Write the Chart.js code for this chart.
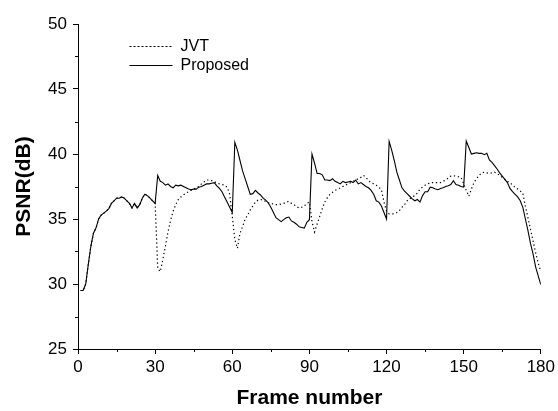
<!DOCTYPE html>
<html>
<head>
<meta charset="utf-8">
<script src="https://cdn.jsdelivr.net/npm/chart.js@4.4.0/dist/chart.umd.min.js"></script>
<style>
  html, body { margin: 0; padding: 0; background: #fff; }
</style>
</head>
<body>
<canvas id="psnr-chart" width="558" height="411"></canvas>
<script>
// Frame numbers ====================================
const frames = [
  1, 2, 3, 4, 5, 6, 7, 8, 9, 10, 11, 12, 13, 14, 15, 16, 17, 18, 19, 20,
  21, 22, 23, 24, 25, 26, 27, 28, 29, 30, 31, 32, 33, 34, 35, 36, 37, 38, 39, 40,
  41, 42, 43, 44, 45, 46, 47, 48, 49, 50, 51, 52, 53, 54, 55, 56, 57, 58, 59, 60,
  61, 62, 63, 64, 65, 66, 67, 68, 69, 70, 71, 72, 73, 74, 75, 76, 77, 78, 79, 80,
  81, 82, 83, 84, 85, 86, 87, 88, 89, 90, 91, 92, 93, 94, 95, 96, 97, 98, 99, 100,
  101, 102, 103, 104, 105, 106, 107, 108, 109, 110, 111, 112, 113, 114, 115, 116, 117, 118, 119, 120,
  121, 122, 123, 124, 125, 126, 127, 128, 129, 130, 131, 132, 133, 134, 135, 136, 137, 138, 139, 140,
  141, 142, 143, 144, 145, 146, 147, 148, 149, 150, 151, 152, 153, 154, 155, 156, 157, 158, 159, 160,
  161, 162, 163, 164, 165, 166, 167, 168, 169, 170, 171, 172, 173, 174, 175, 176, 177, 178, 179, 180
];

// PSNR values (dB) ==================================
const jvtPsnr = [
  29.5, 29.5, 30.0, 31.5, 32.9, 33.9, 34.3, 35.0, 35.3, 35.45, 35.6, 35.8, 36.2, 36.4, 36.6, 36.6, 36.7, 36.6, 36.4, 36.2,
  35.85, 36.2, 35.85, 36.1, 36.6, 36.9, 36.8, 36.6, 36.4, 36.2, 31.2, 30.95, 31.9, 32.9, 34.0, 34.9, 35.6, 36.1, 36.5, 36.7,
  36.85, 37.0, 37.1, 37.2, 37.3, 37.4, 37.5, 37.7, 37.85, 38.0, 38.0, 37.95, 37.85, 37.8, 37.7, 37.65, 37.6, 37.45, 36.9, 35.2,
  33.4, 32.75, 33.9, 34.4, 35.0, 35.3, 35.7, 36.0, 36.3, 36.45, 36.5, 36.45, 36.35, 36.25, 36.2, 36.15, 36.1, 36.1, 36.15, 36.2,
  36.3, 36.35, 36.2, 36.1, 35.95, 35.85, 35.9, 36.0, 36.2, 36.3, 34.8, 34.0, 34.6, 35.2, 35.8, 36.3, 36.65, 36.9, 37.05, 37.2,
  37.3, 37.4, 37.5, 37.6, 37.7, 37.8, 37.9, 38.0, 38.1, 38.2, 38.35, 38.2, 37.95, 37.8, 37.7, 37.6, 37.45, 37.25, 36.3, 35.6,
  35.4, 35.4, 35.4, 35.5, 35.65, 35.9, 36.1, 36.4, 36.55, 36.7, 36.8, 37.0, 37.3, 37.45, 37.6, 37.7, 37.8, 37.8, 37.8, 37.8,
  37.8, 37.9, 38.0, 38.15, 38.3, 38.33, 38.3, 38.25, 38.2, 37.7, 37.2, 36.75, 37.3, 37.8, 38.1, 38.35, 38.55, 38.6, 38.55, 38.5,
  38.55, 38.6, 38.5, 38.35, 38.2, 38.05, 37.9, 37.8, 37.6, 37.45, 37.3, 37.15, 37.0, 35.97, 35.1, 34.2, 33.3, 32.4, 31.6, 30.97
];

const proposedPsnr = [
  29.5, 29.5, 30.0, 31.5, 32.9, 33.9, 34.3, 35.0, 35.3, 35.45, 35.6, 35.8, 36.2, 36.4, 36.6, 36.6, 36.7, 36.6, 36.4, 36.2,
  35.85, 36.2, 35.85, 36.1, 36.6, 36.9, 36.8, 36.6, 36.4, 36.2, 38.35, 37.9, 37.8, 37.6, 37.7, 37.5, 37.4, 37.6, 37.55, 37.6,
  37.5, 37.4, 37.3, 37.25, 37.3, 37.3, 37.45, 37.5, 37.6, 37.7, 37.7, 37.75, 37.8, 37.55, 37.35, 37.1, 36.7, 36.3, 35.9, 35.5,
  40.9, 40.3, 39.5, 38.7, 38.1, 37.5, 36.9, 36.95, 37.2, 37.0, 36.85, 36.6, 36.45, 36.25, 35.9, 35.5, 35.1, 34.95, 34.8, 34.95,
  35.1, 35.15, 34.85, 34.75, 34.6, 34.4, 34.35, 34.3, 34.75, 34.95, 40.0, 39.3, 38.5, 38.5, 38.4, 38.0, 38.0, 37.95, 38.1, 37.9,
  37.8, 37.7, 37.9, 37.8, 37.85, 37.9, 37.8, 38.0, 37.7, 37.8, 37.65, 37.5, 37.4, 37.2, 36.9, 36.4, 36.3, 36.0, 35.5, 35.0,
  40.97, 40.3, 39.5, 38.6, 38.0, 37.4, 37.15, 36.95, 36.75, 36.55, 36.4, 36.5, 36.3, 36.8, 37.1, 37.1, 37.45, 37.4, 37.3, 37.25,
  37.35, 37.4, 37.5, 37.55, 37.65, 37.95, 37.65, 37.6, 37.5, 37.45, 41.0, 40.5, 40.0, 40.05, 40.1, 40.05, 40.05, 39.95, 40.05, 39.55,
  39.35, 39.1, 38.85, 38.55, 38.3, 38.05, 37.8, 37.35, 37.1, 36.9, 36.7, 36.4, 35.9, 35.0, 34.1, 33.1, 32.3, 31.3, 30.6, 29.95
];

// Axis ticks ========================================
const xMajor = [0, 30, 60, 90, 120, 150, 180];
const xMinor = [15, 45, 75, 105, 135, 165];
const yMajor = [25, 30, 35, 40, 45, 50];
const yMinor = [27.5, 32.5, 37.5, 42.5, 47.5];

Chart.defaults.font.family = "'Liberation Sans', Arial, sans-serif";
Chart.defaults.color = "#000";

// small minor tick marks (outside the plot) ===========
const minorTicks = {
  id: "minorTicks",
  afterDraw(chart) {
    const { ctx, chartArea: { left, bottom }, scales: { x, y } } = chart;
    ctx.save();
    ctx.strokeStyle = "#000";
    ctx.lineWidth = 1;
    ctx.beginPath();
    xMinor.forEach((v) => {
      const px = Math.round(x.getPixelForValue(v)) + 0.5;
      ctx.moveTo(px, bottom);
      ctx.lineTo(px, bottom + 3);
    });
    yMinor.forEach((v) => {
      const py = Math.round(y.getPixelForValue(v)) + 0.5;
      ctx.moveTo(left, py);
      ctx.lineTo(left - 3, py);
    });
    ctx.stroke();
    ctx.restore();
  },
};

// move the legend to the upper left of the plot =======
const legendSpot = {
  id: "legendSpot",
  beforeDraw(chart) {
    chart.legend.left = chart.chartArea.left + 48.5;
    chart.legend.top = chart.chartArea.top + 11.5;
  },
};

const psnrChart = {
  type: "line",
  data: {
    datasets: [
      {
        label: "JVT",
        data: frames.map((f, i) => ({ x: f, y: jvtPsnr[i] })),
        borderColor: "#000",
        backgroundColor: "transparent",
        borderWidth: 1.2,
        borderDash: [1.3, 2.7],
        pointRadius: 0,
        tension: 0,
      },
      {
        label: "Proposed",
        data: frames.map((f, i) => ({ x: f, y: proposedPsnr[i] })),
        borderColor: "#000",
        backgroundColor: "transparent",
        borderWidth: 1.1,
        pointRadius: 0,
        tension: 0,
      },
    ],
  },
  options: {
    responsive: false,
    animation: false,
    layout: { padding: { left: 0, top: 24, right: 16, bottom: 0 } },
    plugins: {
      tooltip: { enabled: false },
      legend: {
        position: "chartArea",
        align: "start",
        labels: {
          boxWidth: 43,
          boxHeight: 0,
          padding: 3,
          font: { size: 16 },
          color: "#000",
        },
      },
    },
    scales: {
      x: {
        type: "linear",
        min: 0,
        max: 180,
        afterBuildTicks: (scale) => { scale.ticks = xMajor.map((v) => ({ value: v })); },
        afterFit: (scale) => { scale.height = 62; },
        border: { display: true, color: "#000", width: 1 },
        grid: { drawOnChartArea: false, drawTicks: true, tickLength: 5, tickColor: "#000" },
        ticks: { font: { size: 17 }, color: "#000", padding: 3, maxRotation: 0 },
        title: {
          display: true,
          text: "Frame number",
          font: { size: 21, weight: "bold" },
          color: "#000",
          padding: { top: 0, bottom: 0 },
        },
      },
      y: {
        min: 25,
        max: 50,
        afterBuildTicks: (scale) => { scale.ticks = yMajor.map((v) => ({ value: v })); },
        afterFit: (scale) => { scale.width = 78; },
        border: { display: true, color: "#000", width: 1 },
        grid: { drawOnChartArea: false, drawTicks: true, tickLength: 5, tickColor: "#000" },
        ticks: { font: { size: 17 }, color: "#000", padding: 6 },
        title: {
          display: true,
          text: "PSNR(dB)",
          font: { size: 21, weight: "bold" },
          color: "#000",
          padding: { top: 12, bottom: 0 },
        },
      },
    },
  },
  plugins: [minorTicks, legendSpot],
};

const myChart = new Chart(document.getElementById("psnr-chart"), psnrChart);
</script>
</body>
</html>
